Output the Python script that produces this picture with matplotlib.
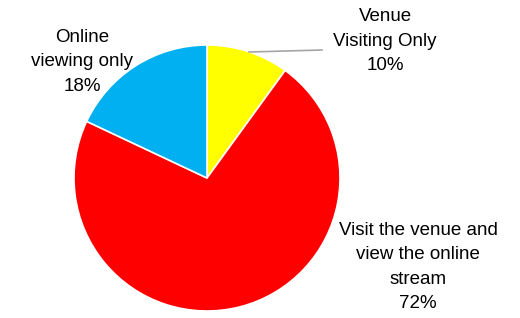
import matplotlib
matplotlib.use('Agg')
import matplotlib.pyplot as plt

# Data
categories = ['Venue\nVisiting Only', 'Visit the venue and\nview the online\nstream', 'Online\nviewing only']
shares = [10, 72, 18]
colors = ['#FFFF00', '#FF0000', '#00B0F0']

plt.rcParams['font.family'] = ['Liberation Sans', 'DejaVu Sans']

fig = plt.figure(figsize=(5.2, 3.18), dpi=100)
ax = fig.add_axes([0, 0, 1, 1])

# pie in pixel coords (y flipped)
cx, cy, r = 207, 318 - 178, 133
ax.pie(shares, colors=colors, startangle=90, counterclock=False,
       center=(cx, cy), radius=r, frame=True,
       wedgeprops=dict(edgecolor='white', linewidth=1.2))
ax.set_xlim(0, 520)
ax.set_ylim(0, 318)
ax.set_aspect('equal')
ax.axis('off')

# labels
pos = [(385, 318 - 41), (418, 318 - 267), (82, 318 - 62)]
for cat, val, (x, y) in zip(categories, shares, pos):
    ax.text(x, y, f'{cat}\n{val}%', ha='center', va='center',
            fontsize=13.5, linespacing=1.55, color='black')

# leader line for small slice
ax.plot([249, 322], [318 - 52, 318 - 50], color='#A6A6A6', lw=1.2)

fig.savefig('out.png', dpi=100)
